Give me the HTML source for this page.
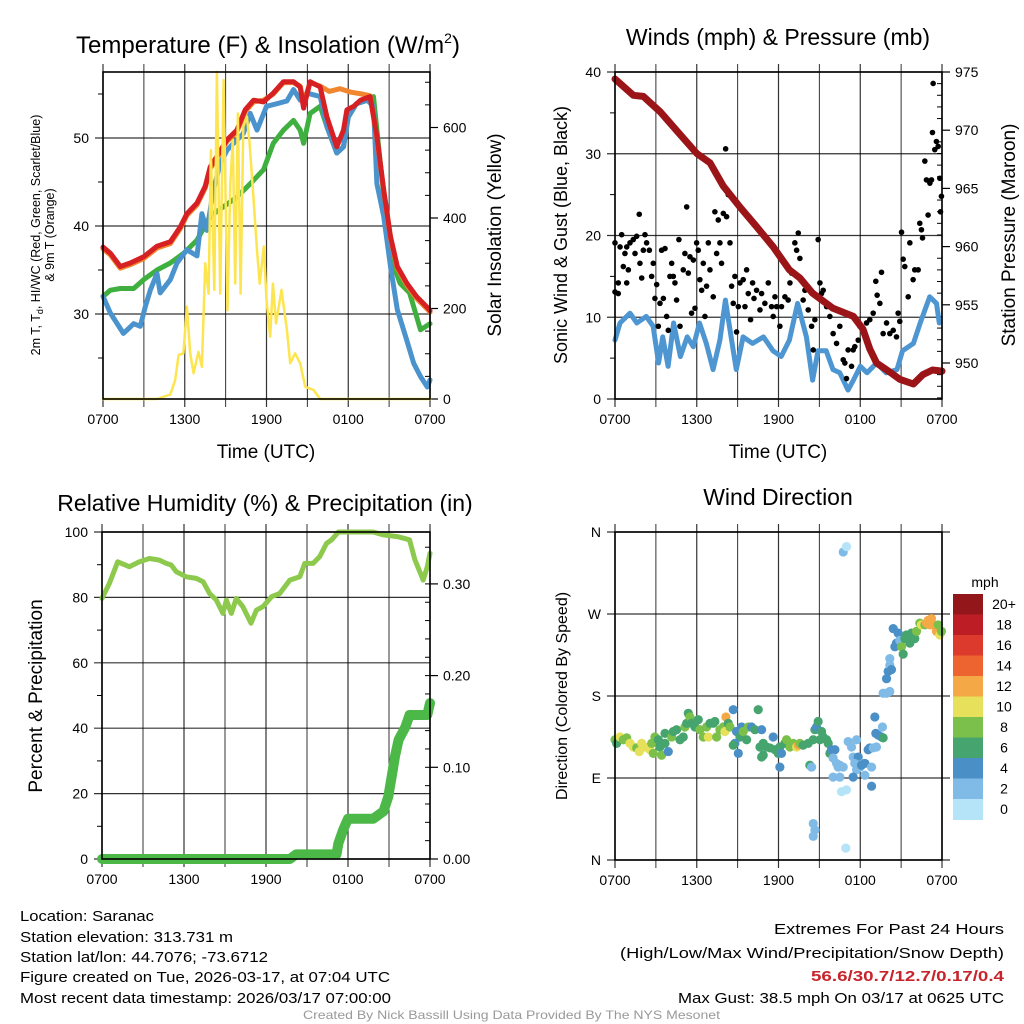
<!DOCTYPE html>
<html><head><meta charset="utf-8"><style>
html,body{margin:0;padding:0;background:#fff;}
svg{display:block;font-family:"Liberation Sans",sans-serif;}
</style></head><body>
<svg id="c" width="1024" height="1024" viewBox="0 0 1024 1024" xmlns="http://www.w3.org/2000/svg">
<g id="grid"></g>
<g id="series"></g>
<g id="frames"></g>
<g id="labels" font-size="14" fill="#000">
<text x="268" y="53" font-size="24" text-anchor="middle">Temperature (F) &amp; Insolation (W/m<tspan font-size="14" dy="-10">2</tspan><tspan dy="10">)</tspan></text>
<text x="778" y="45" font-size="23" text-anchor="middle">Winds (mph) &amp; Pressure (mb)</text>
<text x="265" y="511" font-size="23" text-anchor="middle">Relative Humidity (%) &amp; Precipitation (in)</text>
<text x="778" y="505" font-size="23" text-anchor="middle">Wind Direction</text>
<text x="266" y="458" font-size="19" text-anchor="middle">Time (UTC)</text>
<text x="778" y="458" font-size="19" text-anchor="middle">Time (UTC)</text>
<g transform="translate(40,235) rotate(-90)"><text x="0" y="0" font-size="12.5" text-anchor="middle">2m T, T<tspan font-size="9" dy="3">d</tspan><tspan dy="-3">, HI/WC (Red, Green, Scarlet/Blue)</tspan></text><text x="0" y="14" font-size="12.5" text-anchor="middle">&amp; 9m T (Orange)</text></g>
<text transform="translate(501,235) rotate(-90)" font-size="19" text-anchor="middle">Solar Insolation (Yellow)</text>
<text transform="translate(567,235) rotate(-90)" font-size="18" text-anchor="middle">Sonic Wind &amp; Gust (Blue, Black)</text>
<text transform="translate(1015,235) rotate(-90)" font-size="19" text-anchor="middle">Station Pressure (Maroon)</text>
<text transform="translate(42,696) rotate(-90)" font-size="19" text-anchor="middle">Percent &amp; Precipitation</text>
<text transform="translate(567,696) rotate(-90)" font-size="16" text-anchor="middle">Direction (Colored By Speed)</text>
<g font-size="15">
<text x="20" y="921" textLength="134" lengthAdjust="spacingAndGlyphs">Location: Saranac</text>
<text x="20" y="942" textLength="213" lengthAdjust="spacingAndGlyphs">Station elevation: 313.731 m</text>
<text x="20" y="962" textLength="248" lengthAdjust="spacingAndGlyphs">Station lat/lon: 44.7076; -73.6712</text>
<text x="20" y="982" textLength="370" lengthAdjust="spacingAndGlyphs">Figure created on Tue, 2026-03-17, at 07:04 UTC</text>
<text x="20" y="1003" textLength="371" lengthAdjust="spacingAndGlyphs">Most recent data timestamp: 2026/03/17 07:00:00</text>
</g>
<g font-size="15">
<text x="774" y="934" textLength="230" lengthAdjust="spacingAndGlyphs">Extremes For Past 24 Hours</text>
<text x="620" y="958" textLength="384" lengthAdjust="spacingAndGlyphs">(High/Low/Max Wind/Precipitation/Snow Depth)</text>
<text x="811" y="981" textLength="193" lengthAdjust="spacingAndGlyphs" fill="#c8242b" font-weight="bold">56.6/30.7/12.7/0.17/0.4</text>
<text x="678" y="1003" textLength="326" lengthAdjust="spacingAndGlyphs">Max Gust: 38.5 mph On 03/17 at 0625 UTC</text>
</g>
<text x="303" y="1019" font-size="12" fill="#999" textLength="417" lengthAdjust="spacingAndGlyphs">Created By Nick Bassill Using Data Provided By The NYS Mesonet</text>
<text x="985" y="587" font-size="14" text-anchor="middle">mph</text>
</g>
<g id="cbar"></g>
</svg>
<script>
// ---------- data ----------
const xTickLabels = ["0700","1300","1900","0100","0700"];
const tempTicks = [30,40,50];
const insTicks = [0,200,400,600];
const windTicks = [0,10,20,30,40];
const presTicks = [950,955,960,965,970,975];
const rhTicks = [0,20,40,60,80,100];
const precipTicks = [0.00,0.10,0.20,0.30];
const dirTickLabels = ["N","E","S","W","N"];
const dirTickValues = [0,90,180,270,360];
const speedBins = ["0","2","4","6","8","10","12","14","16","18","20+"];

const redHours = [0,0.54,1.27,2.0,2.98,3.96,4.94,5.67,6.16,6.9,7.5,7.87,8.36,9.1,9.83,10.44,11.05,11.78,12.5,13.25,13.98,14.47,14.72,15.2,15.94,16.43,17.16,17.65,17.9,18.4,18.9,19.6,20.1,20.6,21.1,21.6,22.3,23.0,23.9,24];
const redTemps = [37.6,36.9,35.4,35.8,36.5,37.7,38.2,39.9,41.4,42.6,44.5,46.7,47.9,49.8,50.9,53.2,54.3,54.1,55.1,56.4,56.4,55.8,53.4,56.4,55.8,52.4,49.0,50.9,53.2,53.6,54.3,54.7,50.2,44.1,38.8,35.4,33.5,32.0,30.6,30.4];
const orangeHours = [0,0.54,1.27,2.0,2.98,3.96,4.94,5.67,6.16,6.9,7.5,7.87,8.36,9.1,9.83,10.44,11.05,11.78,12.5,13.25,13.98,14.47,14.72,15.2,15.94,16.6,17.4,18.2,19.0,19.6,20.1,20.6,21.1,21.6,22.3,23.0,23.9,24];
const orangeTemps = [37.4,36.7,35.2,35.6,36.3,37.5,38.0,39.7,41.2,42.4,44.3,46.5,47.7,49.6,50.7,53.0,54.1,54.3,55.0,56.3,56.3,55.9,54.0,56.3,55.9,55.3,55.6,55.2,55.0,54.8,50.0,44.0,38.6,35.2,33.3,31.8,30.4,30.2];
const blueHours = [0,0.54,1.5,2.25,2.74,3.1,3.47,3.96,4.2,4.94,5.43,6.16,6.9,7.26,7.63,8.1,8.6,9.1,9.58,10.3,10.8,11.3,12.0,12.76,13.5,13.98,14.47,14.96,15.94,16.43,17.16,17.65,18.0,18.6,19.4,19.85,20.1,20.6,21.1,21.6,22.3,22.8,23.3,23.8,24];
const blueTemps = [32.0,30.1,27.8,28.9,28.6,30.8,32.7,34.6,32.4,33.9,35.8,37.3,36.6,41.4,39.5,44.1,47.1,48.6,49.4,50.5,52.8,50.9,53.6,53.9,54.2,55.5,54.3,55.1,54.7,51.3,48.3,49.0,52.4,53.9,54.3,53.6,44.8,41.1,35.4,30.5,27.0,24.4,22.9,21.7,22.5];
const greenHours = [0,0.54,1.27,2.25,2.98,3.96,4.94,5.92,6.9,7.87,8.85,9.83,10.8,11.78,12.5,13.25,13.98,14.47,14.72,15.2,15.94,16.43,17.16,17.65,18.0,18.6,19.4,19.85,20.3,21.1,21.8,22.5,23.3,24];
const greenTemps = [32.0,32.7,32.9,32.9,33.9,35.0,35.8,36.9,38.4,41.1,42.2,43.3,44.8,46.4,49.4,50.9,52.0,50.9,49.4,52.8,53.6,51.3,48.3,49.0,52.4,53.9,54.3,54.7,47.9,36.5,33.5,32.4,28.2,28.9];
const insHours = [0,3.96,4.94,5.3,5.55,5.9,6.16,6.4,6.65,7.0,7.26,7.5,7.75,7.92,8.17,8.36,8.6,8.85,9.14,9.34,9.53,9.7,9.9,10.1,10.3,10.56,10.76,11.0,11.3,11.5,11.8,12.0,12.27,12.47,12.7,13.1,13.5,13.74,14.1,14.47,14.84,15.45,15.94,24];
const insValues = [0,0,10,42,97,101,204,101,57,104,71,300,233,550,241,723,233,705,196,476,572,255,631,233,602,624,565,462,329,255,337,219,138,255,167,241,153,79,101,79,27,20,0,0];

const presHours = [0,1.34,2.08,3.3,4.5,6.0,6.97,7.95,9.17,10.4,11.6,12.8,13.57,14.5,16.0,17.5,18.2,18.7,19.2,20.2,20.9,21.9,22.6,23.3,24];
const presValues = [974.4,973.0,972.9,971.6,970.0,968.0,967.2,965.2,963.4,961.7,960.0,958.0,957.3,956.0,954.7,954.0,952.9,951.2,950.0,949.2,948.6,948.2,949.0,949.4,949.3];
const windHours = [0,0.37,1.1,1.6,2.3,2.8,3.2,3.5,3.9,4.3,4.8,5.3,5.75,6.2,6.7,7.2,7.7,8.1,8.56,8.9,9.4,10.1,10.9,11.6,12.2,12.8,13.4,14.05,14.5,14.9,15.5,16.0,16.5,17.1,17.5,18.0,18.5,19.2,19.9,20.7,21.1,21.9,22.4,23.1,23.6,23.8];
const windSpeeds = [7.2,9.3,10.5,9.3,10.1,8.9,4.4,7.6,4.0,9.3,5.2,7.6,6.4,9.3,6.8,3.6,7.2,12.1,7.2,3.6,7.6,6.8,7.6,5.9,5.2,7.2,11.7,7.6,2.3,5.9,5.9,3.6,3.2,1.1,2.3,4.0,3.2,4.4,3.2,3.6,5.9,6.8,9.3,12.5,11.7,9.3];
const gustHours = [0,0,0.24,0.24,0.37,0.49,0.61,0.73,0.86,0.98,0.86,1.10,1.34,1.47,1.59,1.78,1.83,1.96,2.08,2.20,2.32,2.52,2.69,2.81,2.93,3.06,3.18,3.30,3.42,3.55,3.67,3.79,3.91,4.03,4.16,4.28,4.40,4.52,4.69,4.77,5.01,5.13,5.26,5.38,5.50,5.62,5.75,5.87,5.99,6.11,6.23,6.36,6.48,6.60,6.72,6.85,6.97,7.21,7.33,7.46,7.58,7.70,7.82,7.95,8.12,8.19,8.31,8.44,8.56,8.68,8.80,8.92,9.05,9.17,9.41,9.54,9.66,9.78,9.95,10.10,10.20,10.39,10.64,10.76,11.00,11.25,11.49,11.61,11.74,11.86,12.10,12.22,12.47,12.71,12.84,12.96,13.20,13.33,13.45,13.57,13.81,13.94,14.18,14.43,14.55,14.67,14.91,15.04,15.16,15.28,15.53,15.77,16.01,16.26,16.50,16.75,16.87,16.99,17.11,17.36,17.48,17.60,17.85,17.97,18.22,18.46,18.70,18.95,19.14,19.24,19.44,19.56,19.68,19.93,20.17,20.42,20.66,20.78,20.90,21.03,21.15,21.27,21.52,21.64,21.88,22.00,22.25,22.37,22.49,22.57,22.74,22.86,22.98,23.11,23.23,23.30,23.35,23.47,23.59,23.72,23.84,23.89,23.96];
const gustSpeeds = [13.1,19.1,14.2,12.9,18.6,20.1,16.2,17.8,18.6,15.8,14.2,19.1,19.5,17.8,19.9,22.6,16.6,14.8,18.2,20.1,19.1,18.2,15.0,16.6,12.3,14.0,8.9,11.7,18.2,12.3,18.4,10.1,8.4,15.0,16.6,15.0,14.2,12.1,19.5,8.9,15.8,17.8,23.5,15.4,17.4,10.5,17.0,11.1,19.1,18.2,14.6,13.3,16.6,10.1,13.8,19.1,15.8,12.5,22.9,17.8,21.9,19.1,16.6,22.7,30.6,22.3,25.0,19.1,13.8,11.7,15.0,8.2,11.3,14.2,14.6,11.3,15.8,12.9,9.7,14.2,12.3,13.3,10.9,12.9,11.7,14.2,11.3,10.1,12.5,11.3,8.9,11.3,12.5,12.1,14.2,15.4,19.1,18.2,20.3,17.2,12.1,13.3,10.9,8.9,6.0,9.7,19.5,14.2,12.9,13.3,11.3,10.1,8.0,6.8,8.9,4.8,4.4,2.5,6.0,4.0,6.0,6.4,7.2,8.9,8.2,9.3,9.7,10.5,14.4,12.7,11.7,15.5,8.0,9.3,8.0,8.4,7.6,10.5,9.5,20.4,17.1,16.2,12.5,19.1,14.6,15.8,15.8,21.5,20.7,19.7,29.1,26.8,22.5,26.4,26.8,32.6,38.6,30.5,31.5,30.9,27.0,22.9,24.8];

const rhHours = [0,0.54,1.15,2.0,2.74,3.47,4.2,4.7,5.06,5.43,6.16,6.9,7.4,7.87,8.36,8.85,9.1,9.46,9.83,10.3,10.9,11.3,11.78,12.4,13.0,13.74,14.47,14.84,15.45,15.94,16.43,16.8,17.3,19.85,20.6,21.6,22.5,22.9,23.3,23.5,23.8,24.0];
const rhValues = [79.7,84.3,90.9,89.4,90.9,91.9,91.4,90.4,89.9,87.9,86.3,85.8,84.8,81.2,79.2,75.1,79.2,75.1,79.7,77.2,72.1,76.1,77.2,80.2,81.2,85.3,86.3,90.4,90.4,92.5,96.5,97.6,100,100,99.1,98.6,97.6,91.4,87.4,85.3,89.4,93.5];
const precipHours = [0,13.74,14.2,17.16,17.3,17.65,18.0,19.85,20.6,20.95,21.2,21.44,21.7,22.2,22.5,23.8,24.0];
const precipValues = [0,0,0.005,0.005,0.017,0.032,0.044,0.044,0.052,0.068,0.09,0.112,0.13,0.144,0.157,0.157,0.17];

const dirHours = [0,0.12,0.37,0.61,0.86,1.10,1.34,1.59,1.78,1.96,2.20,2.44,2.57,2.69,2.81,2.93,3.18,3.30,3.42,3.67,3.91,3.67,4.16,4.28,4.52,4.77,5.01,5.13,5.26,5.38,5.50,5.62,5.87,6.11,6.23,6.48,6.72,6.85,6.97,7.21,7.33,7.46,7.70,7.95,8.07,8.14,8.31,8.44,8.68,8.92,9.17,8.80,8.68,9.05,9.29,9.41,9.66,9.78,10.02,10.27,10.51,10.76,10.88,10.64,10.76,10.88,11.12,11.37,11.61,11.74,11.98,12.10,12.22,12.10,12.47,12.59,12.84,13.08,13.33,13.45,13.57,13.81,14.18,14.30,14.43,14.55,14.67,14.79,14.91,15.04,15.16,15.28,15.53,15.65,15.77,15.89,16.14,16.01,16.26,16.38,16.50,16.01,16.50,16.75,16.63,16.99,14.55,14.67,14.55,16.94,16.75,16.99,17.11,17.36,17.48,17.73,17.85,17.60,17.73,18.22,17.97,18.34,17.48,18.09,18.34,18.58,18.70,18.95,19.19,18.83,18.83,19.07,19.14,19.32,19.56,19.68,19.63,19.68,19.93,20.17,19.93,20.05,20.17,20.29,20.17,20.42,20.54,20.66,20.78,20.90,21.03,21.15,21.27,21.39,21.52,21.64,21.76,22.00,22.13,22.37,22.49,22.74,22.86,22.98,23.11,23.23,23.35,23.59,23.72,23.84,23.96,22.62,23.11];
const dirDegrees = [132,128,135,132,134,128,124,123,119,128,124,123,121,128,117,135,132,124,115,128,119,139,135,141,143,132,135,146,150,161,157,150,146,154,143,135,146,135,150,150,152,135,143,146,141,157,150,146,165,141,135,128,126,117,146,141,132,146,146,143,165,143,128,124,113,115,124,123,135,121,117,124,117,102,128,132,124,128,124,126,128,126,128,104,102,132,143,146,152,132,141,135,132,128,117,121,121,112,106,102,104,91,91,102,75,77,40,33,26,13,338,344,130,124,113,132,113,106,99,106,102,93,91,104,106,121,123,123,124,102,81,157,139,137,135,134,146,183,183,185,199,207,214,209,221,254,234,238,249,241,234,226,243,247,243,238,249,243,251,260,258,258,260,263,258,265,258,251,258,247,251];
const dirSpeeds = [8,6,10,8,8,10,10,8,10,10,10,10,10,8,8,8,6,6,8,6,4,6,8,6,6,6,6,8,6,6,8,6,6,6,8,8,8,10,6,6,6,8,8,8,10,12,6,8,4,4,6,4,6,4,4,8,6,8,4,6,6,4,6,6,6,6,6,6,4,6,6,6,4,4,6,8,8,8,10,12,8,6,6,6,2,6,6,4,6,6,6,6,6,6,6,4,4,2,2,2,2,2,2,2,0,0,2,2,2,0,2,0,2,2,2,2,4,2,2,2,2,2,4,4,4,4,4,2,2,2,4,4,4,4,4,6,2,2,2,2,4,4,2,4,2,4,4,4,4,2,8,6,6,6,6,6,6,6,8,8,10,8,12,12,12,12,12,12,8,10,8,12];
const speedColors = ["#b5e3f7","#7fbbe6","#4a8fc6","#46a46e","#7ac04a","#e6e05a","#f5a846","#ee6431","#dc3a2c","#bd1e25","#93161b"];

// ---------- helpers ----------
const NS = "http://www.w3.org/2000/svg";
function mk(tag, attrs, parent){ const e=document.createElementNS(NS,tag); for(const k in attrs) e.setAttribute(k,attrs[k]); parent.appendChild(e); return e; }
const G = document.getElementById('grid'), S = document.getElementById('series'), F = document.getElementById('frames'), L = document.getElementById('labels'), CB = document.getElementById('cbar');
function xs(x0,x1){ return h => x0 + (x1-x0)*h/24; }
function lin(v0,p0,v1,p1){ return v => p0 + (v-v0)*(p1-p0)/(v1-v0); }

const panels = [
 {name:'temperature', x0:103,x1:430,yT:72,yB:399},
 {name:'winds', x0:615,x1:942,yT:72,yB:399},
 {name:'humidity', x0:102,x1:430,yT:532,yB:859},
 {name:'direction', x0:615,x1:942,yT:532,yB:860}
];
panels.forEach(p=>{
  const X = xs(p.x0,p.x1);
  for(let i=0;i<=8;i++){
    const ln = mk('line',{x1:X(i*3),x2:X(i*3),y1:p.yT-8,y2:p.yB+8,stroke:'#000','stroke-width':(i%2?1:1.2),'stroke-opacity':0.8},G);
    
    
  }
  xTickLabels.forEach((t,i)=>{
    const tx = mk('text',{x:X(i*6),y:p.yB+25,'text-anchor':'middle','font-size':14},L);
    tx.textContent = t;
    
    
  });
  const fr = mk('rect',{x:p.x0,y:p.yT,width:p.x1-p.x0,height:p.yB-p.yT,fill:'none',stroke:'#000','stroke-width':1.6},F);
  
  
});

function hgrid(p, yv, label, side, ext){
  const ln = mk('line',{x1:p.x0-8,x2:p.x1+(ext||0),y1:yv,y2:yv,stroke:'#000','stroke-width':1.2,'stroke-opacity':0.8},G);
  
  
  const tx = mk('text',{x:p.x0-14,y:yv+5,'text-anchor':'end','font-size':14},L);
  tx.textContent = label;
  
  
}
function rtick(p, yv, label){
  mk('line',{x1:p.x1,x2:p.x1+8,y1:yv,y2:yv,stroke:'#000','stroke-width':1.2},G);
  const tx = mk('text',{x:p.x1+13,y:yv+5,'text-anchor':'start','font-size':14},L);
  tx.textContent = label;
  
  
}
function path(X,Y,hs,vs,color,w,name){
  let d=''; let first=true;
  hs.forEach((h,i)=>{ if(vs[i]===undefined) return; d += (first?'M':'L')+X(h).toFixed(1)+','+Y(vs[i]).toFixed(1); first=false; });
  const e = mk('path',{d:d,fill:'none',stroke:color,'stroke-width':w,'stroke-linejoin':'round','stroke-linecap':'round'},S);
  
  
}

// Panel 1
{
 const p=panels[0], X=xs(p.x0,p.x1), YT=lin(50,138,40,226), YI=lin(0,399,600,127.5);
 tempTicks.forEach(t=>hgrid(p,YT(t),String(t)));
 insTicks.forEach(v=>rtick(p,YI(v),String(v)));
 for(let v=50; v<720; v+=50){ if(v%200) mk('line',{x1:p.x1-5,x2:p.x1,y1:YI(v),y2:YI(v),stroke:'#000'},G); }
 [25,35,45,55].forEach(t=>mk('line',{x1:p.x0-5,x2:p.x0,y1:YT(t),y2:YT(t),stroke:'#000'},G));
 path(X,YT,greenHours,greenTemps,'#3fb03f',5,'dewpoint-line');
 path(X,YT,blueHours,blueTemps,'#4a93cc',5,'wind-chill-line');
 path(X,YT,orangeHours,orangeTemps,'#f2862e',5,'temp-9m-line');
 path(X,YT,redHours,redTemps,'#d62023',5,'temp-2m-line');
 path(X,YI,insHours,insValues,'#fde550',2.5,'insolation-line');
}
// Panel 2
{
 const p=panels[1], X=xs(p.x0,p.x1), YW=lin(0,399,40,72), YP=lin(950,363,975,72);
 windTicks.forEach(w=>hgrid(p,YW(w),String(w)));
 presTicks.forEach(v=>rtick(p,YP(v),String(v)));
 [5,15,25,35].forEach(t=>mk('line',{x1:p.x0-5,x2:p.x0,y1:YW(t),y2:YW(t),stroke:'#000'},G));
 for(let v=947; v<975; v++){ if(v%5) mk('line',{x1:p.x1-5,x2:p.x1,y1:YP(v),y2:YP(v),stroke:'#000'},G); }
 path(X,YW,windHours,windSpeeds,'#4e96d2',5,'sonic-wind-line');
 gustHours.forEach((h,i)=>{
   if(gustSpeeds[i]===undefined) return;
   const c = mk('circle',{cx:X(h),cy:YW(gustSpeeds[i]),r:2.8,fill:'#000'},S);
   
   
 });
 path(X,YP,presHours,presValues,'#9b1518',7,'pressure-line');
}
// Panel 3
{
 const p=panels[2], X=xs(p.x0,p.x1), YR=lin(0,859,100,532), YPr=lin(0,859,0.1,767.3);
 rhTicks.forEach(r=>hgrid(p,YR(r),String(r)));
 precipTicks.forEach(v=>rtick(p,YPr(v),v.toFixed(2)));
 [10,30,50,70,90].forEach(t=>mk('line',{x1:p.x0-5,x2:p.x0,y1:YR(t),y2:YR(t),stroke:'#000'},G));
 for(let v=0.02; v<0.36; v+=0.02){ mk('line',{x1:p.x1-5,x2:p.x1,y1:YPr(v),y2:YPr(v),stroke:'#000'},G); }
 path(X,YR,rhHours,rhValues,'#8cc94c',5,'relative-humidity-line');
 path(X,YPr,precipHours,precipValues,'#4cb848',10,'precipitation-line');
}
// Panel 4
{
 const p=panels[3], X=xs(p.x0,p.x1), YD=lin(0,860,360,532);
 dirTickValues.forEach((d,i)=>hgrid(p,YD(d),dirTickLabels[i],null,8));
 dirHours.forEach((h,i)=>{
   if(dirDegrees[i]===undefined || dirSpeeds[i]===undefined) return;
   const bin = Math.min(10, Math.round(dirSpeeds[i]/2));
   const c = mk('circle',{cx:X(h),cy:YD(dirDegrees[i]),r:4.6,fill:speedColors[bin]},S);
   
   
 });
 const top=594, cell=20.5;
 speedBins.forEach((lab,i)=>{
   const k = 10-i;
   const r = mk('rect',{x:953,y:top+i*cell,width:30,height:cell+0.5,fill:speedColors[k]},CB);
   
   
   const t = mk('text',{x:1004,y:top+i*cell+15,'text-anchor':'middle','font-size':14},CB);
   t.textContent = speedBins[k];
   
   
 });
}
</script>
</body></html>
